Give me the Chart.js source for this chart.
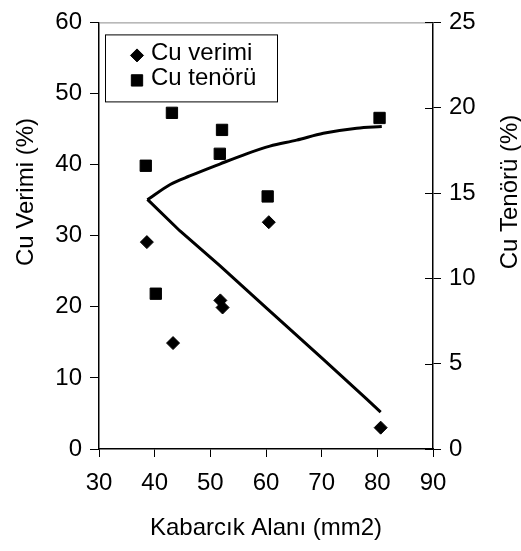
<!DOCTYPE html>
<html>
<head>
<meta charset="utf-8">
<script src="https://cdn.jsdelivr.net/npm/chart.js@4.4.0/dist/chart.umd.min.js"></script>
<style>
    html, body { margin: 0; padding: 0; background: #fff; }
    #wrap { width: 521px; height: 551px; }
</style>
</head>
<body>
<div id="wrap"><canvas id="chart" width="521" height="551"></canvas></div>
<script>
// Cu verimi (%) - left axis
const verimX = [60.5, 38.6, 51.8, 52.2, 43.3, 80.6];
const verimY = [31.9, 29.1, 20.9, 19.9, 14.9, 3.0];
// Cu tenörü (%) - right axis
const tenorX = [43.1, 52.1, 51.7, 38.4, 60.3, 80.4, 40.2];
const tenorY = [19.7, 18.7, 17.3, 16.6, 14.8, 19.4, 9.1];
// trend lines
const verimTrendX = [38.7, 44.5, 51.7, 60.1, 70.3, 78.1, 80.6];
const verimTrendY = [35.1, 30.7, 25.8, 19.8, 12.6, 7.0, 5.2];
const tenorTrendX = [38.7, 42.8, 46.3, 51.7, 56.5, 60.7, 65.5, 70.3, 76.3, 80.8];
const tenorTrendY = [14.6, 15.5, 16.0, 16.7, 17.3, 17.75, 18.1, 18.5, 18.8, 18.9];

const xRange = [30, 90, 10];
const yRange = [0, 60, 10];
const y2Range = [0, 25, 5];

const xTitle = "Kabarcık Alanı (mm2)";
const yTitle = "Cu Verimi (%)";
const y2Title = "Cu Tenörü (%)";

const FONT = "'Liberation Sans', Arial, sans-serif";

function pts(xs, ys) {
    return xs.map((x, i) => ({ x: x, y: ys[i] }));
}

Chart.defaults.font.family = FONT;
Chart.defaults.font.size = 24;
Chart.defaults.color = "#000";

// top frame line, inner ticks on right axis, legend box, y titles
const framePlugin = {
    id: "frame",
    afterDraw(chart) {
        const ctx = chart.ctx;
        const a = chart.chartArea;
        ctx.save();

        ctx.strokeStyle = "#8c8c8c";
        ctx.lineWidth = 1;
        ctx.beginPath();
        ctx.moveTo(a.left, a.top + 0.5);
        ctx.lineTo(a.right, a.top + 0.5);
        ctx.stroke();

        const y2 = chart.scales.y2;
        ctx.strokeStyle = "#000";
        y2.ticks.forEach(t => {
            const py = Math.round(y2.getPixelForValue(t.value)) + 0.5;
            ctx.beginPath();
            ctx.moveTo(a.right - 8, py);
            ctx.lineTo(a.right, py);
            ctx.stroke();
        });

        // legend
        const bx = a.left + 6, by = a.top + 12, bw = 172, bh = 67;
        ctx.fillStyle = "#fff";
        ctx.fillRect(bx, by, bw, bh);
        ctx.strokeStyle = "#000";
        ctx.strokeRect(bx + 0.5, by + 0.5, bw, bh);
        ctx.font = "24px " + FONT;
        ctx.textBaseline = "middle";
        ctx.textAlign = "left";
        chart.data.datasets.slice(0, 2).forEach((ds, i) => {
            const cy = by + 19 + i * 25;
            ctx.fillStyle = "#000";
            ctx.strokeStyle = "#000";
            ctx.lineWidth = 1;
            Chart.helpers.drawPoint(ctx, {
                pointStyle: ds.pointStyle,
                radius: ds.pointRadius,
                borderWidth: 1,
                rotation: 0
            }, bx + 32, cy + 2);
            ctx.fillText(ds.label, bx + 46, cy);
        });

        // axis titles, both reading bottom to top
        ctx.textAlign = "center";
        ctx.fillStyle = "#000";
        [[yTitle, 26], [y2Title, 510]].forEach(([txt, tx]) => {
            ctx.save();
            ctx.translate(tx, 192);
            ctx.rotate(-Math.PI / 2);
            ctx.fillText(txt, 0, 0);
            ctx.restore();
        });

        ctx.restore();
    }
};

const ctx = document.getElementById("chart").getContext("2d");

new Chart(ctx, {
    type: "scatter",
    data: {
        datasets: [
            {
                label: "Cu verimi",
                data: pts(verimX, verimY),
                yAxisID: "y",
                pointStyle: "rectRot",
                pointRadius: 6.5,
                backgroundColor: "#000",
                borderColor: "#000",
                borderWidth: 1,
                order: 1
            },
            {
                label: "Cu tenörü",
                data: pts(tenorX, tenorY),
                yAxisID: "y2",
                pointStyle: "rect",
                pointRadius: 8,
                backgroundColor: "#000",
                borderColor: "#000",
                borderWidth: 1,
                order: 1
            },
            {
                label: "verim trend",
                type: "line",
                data: pts(verimTrendX, verimTrendY),
                yAxisID: "y",
                borderColor: "#000",
                borderWidth: 3,
                pointRadius: 0,
                fill: false,
                tension: 0,
                order: 2
            },
            {
                label: "tenor trend",
                type: "line",
                data: pts(tenorTrendX, tenorTrendY),
                yAxisID: "y2",
                borderColor: "#000",
                borderWidth: 3,
                pointRadius: 0,
                fill: false,
                cubicInterpolationMode: "monotone",
                order: 2
            }
        ]
    },
    options: {
        responsive: false,
        animation: false,
        devicePixelRatio: 1,
        layout: { padding: { top: 17 } },
        plugins: {
            legend: { display: false },
            tooltip: { enabled: false }
        },
        scales: {
            x: {
                type: "linear",
                min: xRange[0],
                max: xRange[1],
                ticks: { stepSize: xRange[2], padding: 12, maxRotation: 0 },
                grid: { drawOnChartArea: false, tickLength: 8, color: "#000" },
                border: { color: "#000", width: 1.5 },
                title: { display: true, text: xTitle, padding: { top: 0, bottom: 8 } },
                afterFit: s => { s.height = 102; }
            },
            y: {
                position: "left",
                min: yRange[0],
                max: yRange[1],
                ticks: { stepSize: yRange[2], padding: 8 },
                grid: { drawOnChartArea: false, tickLength: 9, color: "#000" },
                border: { color: "#000", width: 1.5 },
                afterFit: s => { s.width = 99; }
            },
            y2: {
                position: "right",
                min: y2Range[0],
                max: y2Range[1],
                ticks: { stepSize: y2Range[2], padding: 8 },
                grid: { drawOnChartArea: false, tickLength: 8, color: "#000" },
                border: { color: "#000", width: 1.5 },
                afterFit: s => { s.width = 88; }
            }
        }
    },
    plugins: [framePlugin]
});
</script>
</body>
</html>
